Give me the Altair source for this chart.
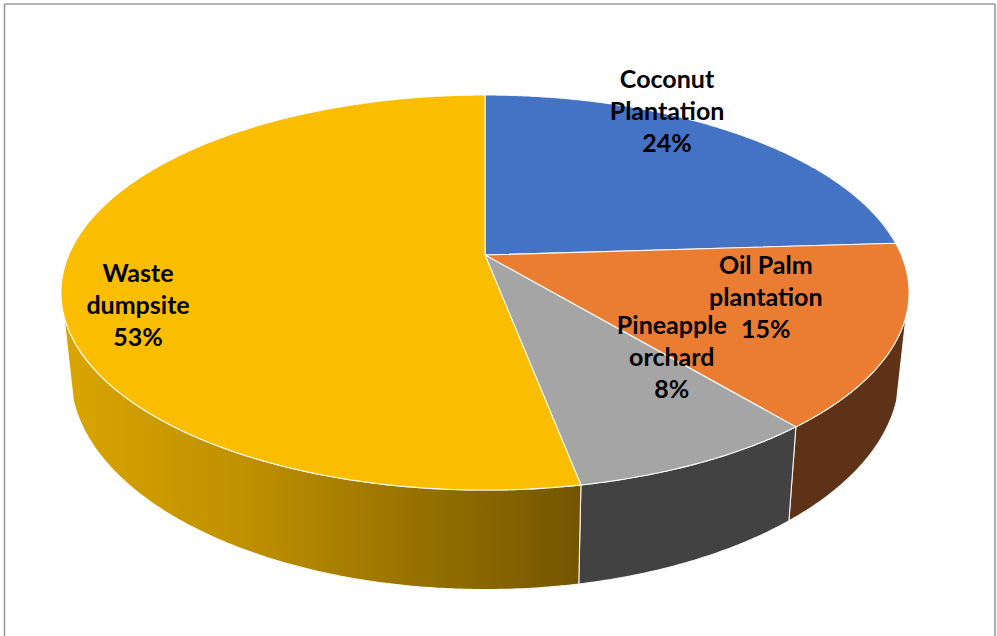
import numpy as np
import pandas as pd
import altair as alt

# ---- data -------------------------------------------------------------
categories = ["Coconut Plantation", "Oil Palm plantation", "Pineapple orchard", "Waste dumpsite"]
label_lines = [["Coconut", "Plantation"], ["Oil Palm", "plantation"],
               ["Pineapple", "orchard"], ["Waste", "dumpsite"]]
shares = [24, 15, 8, 53]

# ---- styling ----------------------------------------------------------
top_colors = ["#4472C4", "#EB7D32", "#A5A5A5", "#FABD00"]
side_colors = ["#2F528F", "#5E3217", "#424242", "yellow-gradient"]
yellow_side = alt.Gradient(
    gradient="linear", x1=0, x2=1, y1=0, y2=0,
    stops=[alt.GradientStop(color="#D9A500", offset=0),
           alt.GradientStop(color="#BF9000", offset=0.35),
           alt.GradientStop(color="#957000", offset=0.7),
           alt.GradientStop(color="#735500", offset=1)],
)

W, H = 997, 636
CX = 485                                  # horizontal centre of the disc
TOP = dict(cy=255, a=416.3, b=190.4)      # upper face of the pie
BOT = dict(cy=334, a=407.0, b=207.0)      # lower face of the pie
K = 0.19                                  # perspective strength
SIDE_COS = -0.30                          # wall is visible where cos(theta) < SIDE_COS
LINE_H = 32                               # label line spacing

# label anchors (centre of the middle text line) in polar form on the top face
label_r = [1.014, 0.682, 0.637, 0.833]
label_theta = [30.2, 108.5, 140.3, 252.2]


def project(theta_deg, r, face):
    t = np.radians(theta_deg)
    u = r * np.sin(t)
    v = r * np.cos(t)
    d = 1 + K * v
    return CX + face["a"] * u / d, face["cy"] - face["b"] * v / d


# ---- build slice geometry -------------------------------------------
ends = np.cumsum(shares) / sum(shares) * 360.0
starts = np.concatenate([[0.0], ends[:-1]])
vis_lo = np.degrees(np.arccos(SIDE_COS))
vis_hi = 360.0 - vis_lo

rows = []
side_shapes, top_shapes = [], []
for i, (a0, a1) in enumerate(zip(starts, ends)):
    # visible wall
    lo, hi = max(a0, vis_lo), min(a1, vis_hi)
    if hi > lo:
        n = max(int((hi - lo) / 0.5), 2)
        th = np.linspace(lo, hi, n)
        xs_t, ys_t = project(th, 1.0, TOP)
        xs_b, ys_b = project(th[::-1], 1.0, BOT)
        px = np.concatenate([xs_t, xs_b, xs_t[:1]])
        py = np.concatenate([ys_t, ys_b, ys_t[:1]])
        name = f"side{i}"
        side_shapes.append((name, side_colors[i]))
        for j, (x, y) in enumerate(zip(px, py)):
            rows.append(dict(shape=name, i=j, x=x, y=y))
    # top face wedge
    n = max(int((a1 - a0) / 0.5), 2)
    th = np.linspace(a0, a1, n)
    xs_t, ys_t = project(th, 1.0, TOP)
    px = np.concatenate([[CX], xs_t, [CX]])
    py = np.concatenate([[TOP["cy"]], ys_t, [TOP["cy"]]])
    name = f"top{i}"
    top_shapes.append((name, top_colors[i]))
    for j, (x, y) in enumerate(zip(px, py)):
        rows.append(dict(shape=name, i=j, x=x, y=y))

geo = pd.DataFrame(rows)

xs = alt.Scale(domain=[0, W])
ys = alt.Scale(domain=[0, H], reverse=True)


def polygon(name, fill):
    return alt.Chart(geo[geo["shape"] == name]).mark_line(
        fill=fill, stroke="white", strokeWidth=1.1, strokeJoin="round", strokeOpacity=0.9
    ).encode(
        x=alt.X("x:Q", scale=xs, axis=None),
        y=alt.Y("y:Q", scale=ys, axis=None),
        order="i:Q",
    )


layers = []
for name, col in side_shapes:
    layers.append(polygon(name, yellow_side if col == "yellow-gradient" else col))
for name, col in top_shapes:
    layers.append(polygon(name, col))

# ---- labels -----------------------------------------------------------
lx, ly = [], []
for r, t in zip(label_r, label_theta):
    x, y = project(t, r, TOP)
    lx.append(float(x))
    ly.append(float(y))
labels = pd.DataFrame({
    "x": lx,
    "y": ly,
    "text": [f"{a}\n{b}\n{s}%" for (a, b), s in zip(label_lines, shares)],
})
layers.append(
    alt.Chart(labels).mark_text(
        font="Lato", fontWeight="bold", fontSize=25, color="black",
        lineBreak="\n", lineHeight=LINE_H, align="center", baseline="middle",
        dy=-LINE_H,
    ).encode(
        x=alt.X("x:Q", scale=xs, axis=None),
        y=alt.Y("y:Q", scale=ys, axis=None),
        text="text:N",
    )
)

# ---- chart frame --------------------------------------------------------
one = pd.DataFrame({"k": [0]})
frame_style = dict(color="#9A9A9A", strokeWidth=1.6)
layers += [
    alt.Chart(one).mark_rule(**frame_style).encode(x=alt.value(4.5), y=alt.value(4), y2=alt.value(H)),
    alt.Chart(one).mark_rule(**frame_style).encode(x=alt.value(4.5), x2=alt.value(995), y=alt.value(4)),
    alt.Chart(one).mark_rule(**frame_style).encode(x=alt.value(995), y=alt.value(4), y2=alt.value(H)),
]

chart = alt.layer(*layers).properties(
    width=W, height=H, padding=0, autosize=alt.AutoSizeParams(type="none"),
    background="white",
).configure_view(stroke=None)

chart.save("out.html", embed_options={"renderer": "svg", "actions": False})
